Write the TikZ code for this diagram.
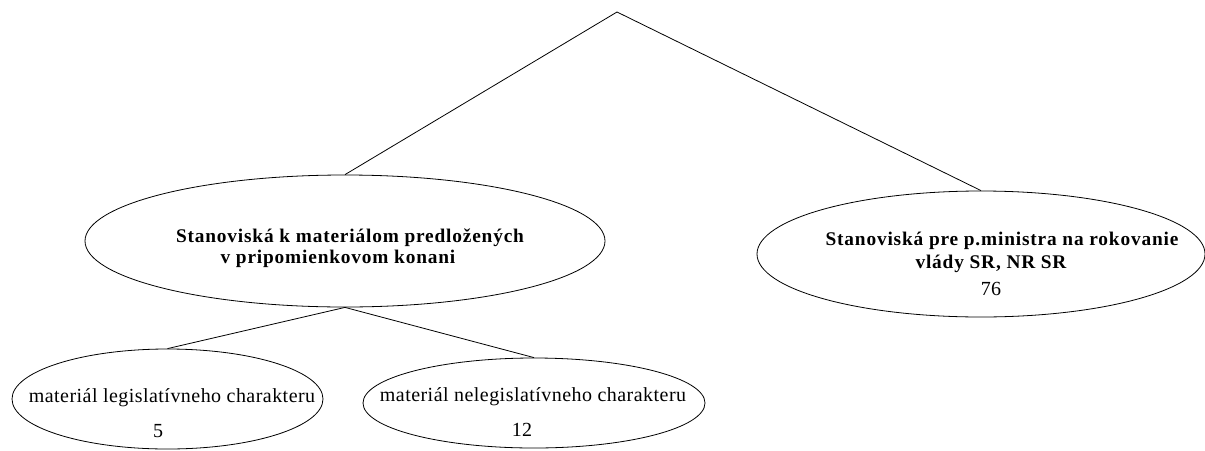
\documentclass[tikz,border=0pt]{standalone}
\usepackage{fontspec}
\setmainfont{Liberation Serif}
\usetikzlibrary{shapes.geometric}
\begin{document}
\begin{tikzpicture}[x=0.75pt,y=-0.75pt,
  oval/.style={draw,ellipse,line width=0.6pt,inner sep=0pt},
  conn/.style={draw,line width=0.6pt},
  boldtxt/.style={font=\fontsize{14.5pt}{17pt}\selectfont\bfseries\addfontfeature{LetterSpace=4.3},anchor=base,inner sep=0pt},
  regtxt/.style={font=\fontsize{15pt}{17pt}\selectfont\addfontfeature{LetterSpace=2.3},anchor=base,inner sep=0pt}]
\useasboundingbox (0,0) rectangle (1205,450);
\coordinate (top) at (617,12);
\node[oval,minimum width=390pt,minimum height=99pt] (L) at (345,241) {};
\node[oval,minimum width=336pt,minimum height=94.5pt] (R) at (981,254) {};
\node[oval,minimum width=233.25pt,minimum height=75pt] (LS) at (167.5,399) {};
\node[oval,minimum width=256.5pt,minimum height=67.5pt] (RS) at (534,403) {};
\node[boldtxt] (l1) at (350,242) {Stanoviská k materiálom predložených};
\node[boldtxt] (l2) at (338,263) {v pripomienkovom konani};
\node[boldtxt] (r1) at (1002,245) {Stanoviská pre p.ministra na rokovanie};
\node[boldtxt] (r2) at (991,268) {vlády SR, NR SR};
\node[regtxt] (r3) at (991,295) {76};
\node[regtxt] (ls1) at (172,402) {materiál legislatívneho charakteru};
\node[regtxt] (ls2) at (158,437) {5};
\node[regtxt] (rs1) at (533,401) {materiál nelegislatívneho charakteru};
\node[regtxt] (rs2) at (522,436) {12};
\draw[conn] (top) -- (L.north);
\draw[conn] (top) -- (R.north);
\draw[conn] (L.south) -- (LS.north);
\draw[conn] (L.south) -- (RS.north);
\end{tikzpicture}
\end{document}
